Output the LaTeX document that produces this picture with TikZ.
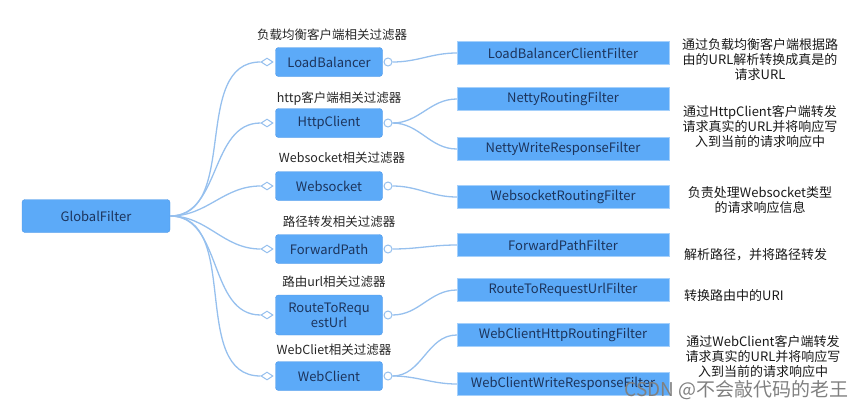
\documentclass[tikz,border=0pt]{standalone}
\usepackage{fontspec}
\setmainfont{Noto Sans CJK SC}
\usetikzlibrary{shapes.geometric,positioning}
\definecolor{boxblue}{RGB}{92,170,248}
\definecolor{boxedge}{RGB}{78,152,232}
\definecolor{linkblue}{RGB}{150,192,238}
\definecolor{inkblue}{RGB}{28,52,92}

\begin{document}
\begin{tikzpicture}[x=1pt,y=-1pt,
  root/.style={draw=boxedge,fill=boxblue,rounded corners=3pt,minimum width=148pt,minimum height=33pt,text=inkblue,font=\fontsize{13}{15}\selectfont},
  group/.style={draw=boxedge,fill=boxblue,rounded corners=3pt,minimum width=107pt,minimum height=29pt,align=center,text=inkblue,font=\fontsize{13}{15}\selectfont},
  filter/.style={draw=boxblue!55,fill=boxblue,minimum width=212pt,minimum height=23pt,inner sep=0pt,text=inkblue,font=\fontsize{13}{15}\selectfont},
  tag/.style={font=\fontsize{12.5}{14}\selectfont,text=black!85,inner sep=1pt},
  note/.style={align=center,font=\fontsize{13}{15}\selectfont,text=black!90,inner sep=1pt},
  link/.style={draw=linkblue,line width=1.3pt},
  dia/.style={diamond,aspect=1.5,draw=linkblue,fill=white,line width=1pt,inner sep=0pt,minimum width=12pt,minimum height=8pt},
  knob/.style={circle,draw=linkblue,fill=white,line width=1pt,inner sep=0pt,minimum size=8pt}]
\useasboundingbox (0,0) rectangle (865,410);

% root
\node[root] (gf) at (96,216) {GlobalFilter};

% groups
\node[group] (lb) at (329,62) {LoadBalancer};
\node[group] (hc) at (329,123) {HttpClient};
\node[group] (ws) at (329,186) {Websocket};
\node[group] (fp) at (329,249) {ForwardPath};
\node[group,minimum height=40pt] (rt) at (329,315) {RouteToRequ\\estUrl};
\node[group] (wc) at (329,376) {WebClient};

\node[tag] (lbtag) at (332,35) {负载均衡客户端相关过滤器};
\node[tag] (hctag) at (339,99) {http客户端相关过滤器};
\node[tag] (wstag) at (342,158) {Websocket相关过滤器};
\node[tag] (fptag) at (339,222) {路径转发相关过滤器};
\node[tag] (rttag) at (334,282) {路由url相关过滤器};
\node[tag] (wctag) at (334,350) {WebCliet相关过滤器};

% diamonds and knobs
\node[dia] (lbd) at (267,62) {};  \node[knob] (lbk) at (388,62) {};
\node[dia] (hcd) at (267,123) {}; \node[knob] (hck) at (388,123) {};
\node[dia] (wsd) at (267,186) {}; \node[knob] (wsk) at (388,186) {};
\node[dia] (fpd) at (267,249) {}; \node[knob] (fpk) at (388,249) {};
\node[dia] (rtd) at (267,315) {}; \node[knob] (rtk) at (388,315) {};
\node[dia] (wcd) at (267,376) {}; \node[knob] (wck) at (388,376) {};

% filters
\node[filter] (lbf) at (563,53) {LoadBalancerClientFilter};
\node[filter] (nrf) at (563,99) {NettyRoutingFilter};
\node[filter] (nwf) at (563,149) {NettyWriteResponseFilter};
\node[filter] (wsf) at (563,197) {WebsocketRoutingFilter};
\node[filter] (fpf) at (563,245) {ForwardPathFilter};
\node[filter] (rtf) at (563,290) {RouteToRequestUrlFilter};
\node[filter] (whf) at (563,335) {WebClientHttpRoutingFilter};
\node[filter] (wwf) at (563,384) {WebClientWriteResponseFilter};

% notes
\node[note] (lbn) at (760,60) {通过负载均衡客户端根据路\\由的URL解析转换成真是的\\请求URL};
\node[note] (hcn) at (760,127) {通过HttpClient客户端转发\\请求真实的URL并将响应写\\入到当前的请求响应中};
\node[note] (wsn) at (760,200) {负责处理Websocket类型\\的请求响应信息};
\node[note,anchor=west] (fpn) at (683,255) {解析路径，并将路径转发};
\node[note,anchor=west] (rtn) at (683,296) {转换路由中的URI};
\node[note] (wcn) at (763,357) {通过WebClient客户端转发\\请求真实的URL并将响应写\\入到当前的请求响应中};

% links
\draw[link] (gf.east) to[out=0,in=180] (lbd.west);
\draw[link] (gf.east) to[out=0,in=180] (hcd.west);
\draw[link] (gf.east) to[out=0,in=180] (wsd.west);
\draw[link] (gf.east) to[out=0,in=180] (fpd.west);
\draw[link] (gf.east) to[out=0,in=180] (rtd.west);
\draw[link] (gf.east) to[out=0,in=180] (wcd.west);
\draw[link] (lbk.east) to[out=0,in=180] (lbf.west);
\draw[link] (hck.east) to[out=0,in=180] (nrf.west);
\draw[link] (hck.east) to[out=0,in=180] (nwf.west);
\draw[link] (wsk.east) to[out=0,in=180] (wsf.west);
\draw[link] (fpk.east) to[out=0,in=180] (fpf.west);
\draw[link] (rtk.east) to[out=0,in=180] (rtf.west);
\draw[link] (wck.east) to[out=0,in=180] (whf.west);
\draw[link] (wck.east) to[out=0,in=180] (wwf.west);

% watermark
\node[font=\fontsize{19}{21}\selectfont,text=black!50,anchor=east] (mark) at (852,390) {CSDN @不会敲代码的老王};
\end{tikzpicture}
\end{document}
